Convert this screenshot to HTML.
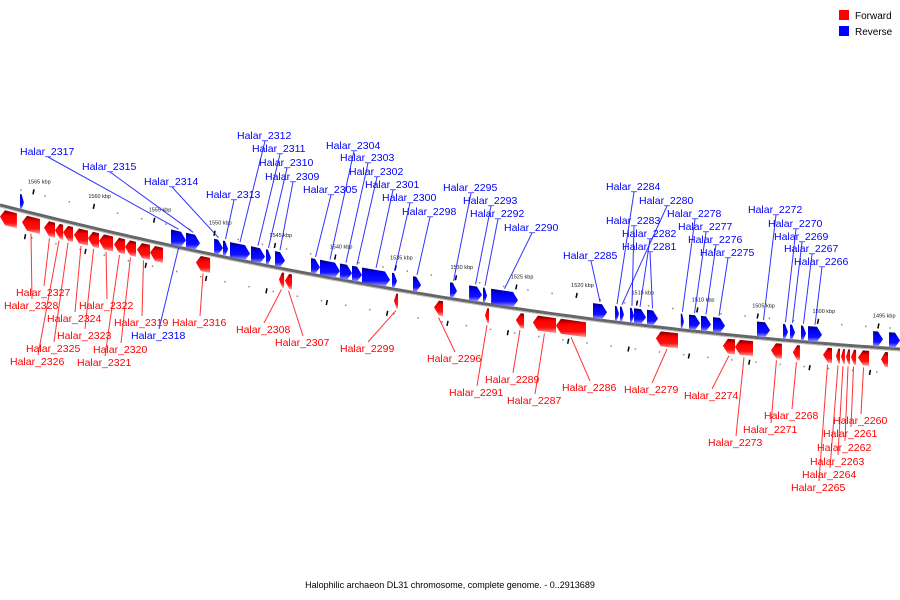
<!DOCTYPE html>
<html><head><meta charset="utf-8">
<style>
html,body{margin:0;padding:0;background:#fff;}
svg{display:block;font-family:"Liberation Sans",sans-serif;}
</style></head>
<body>
<svg id="chart" width="900" height="600" viewBox="0 0 900 600">
<defs>
<linearGradient id="gb" x1="0" y1="0" x2="0" y2="1"><stop offset="0" stop-color="#00006e"/><stop offset="0.3" stop-color="#0000ff"/><stop offset="0.7" stop-color="#1010ff"/><stop offset="1" stop-color="#a0a0ff"/></linearGradient>
<linearGradient id="gr" x1="0" y1="0" x2="0" y2="1"><stop offset="0" stop-color="#700000"/><stop offset="0.3" stop-color="#ff0000"/><stop offset="0.7" stop-color="#ff1010"/><stop offset="1" stop-color="#ffa0a0"/></linearGradient>
</defs>
<g id="tracks"></g><g id="genes"></g><g id="leaders"></g><g id="labels"></g>
<g>
<rect x="839" y="10" width="10" height="10" fill="#ff0000"/>
<text x="855" y="19" font-size="10" fill="#000">Forward</text>
<rect x="839" y="26" width="10" height="10" fill="#0000ff"/>
<text x="855" y="35" font-size="10" fill="#000">Reverse</text>
</g>
<text x="450" y="588" font-size="9" text-anchor="middle" fill="#000">Halophilic archaeon DL31 chromosome, complete genome. - 0..2913689</text>
</svg>
<script>
// tick positions (kbp)
const tickKbp = [1565,1560,1555,1550,1545,1540,1535,1530,1525,1520,1515,1510,1505,1500,1495];
// genes: start/end kbp and strand
const geneStart = [1567.73,1565.91,1564.09,1563.18,1562.51,1561.60,1560.44,1559.53,1558.29,1557.38,1556.38,1555.31,1551.50,1544.62,1544.12,1535.09,1531.78,1527.55,1524.99,1523.58,1521.67,1513.39,1507.84,1506.84,1503.86,1502.04,1499.55,1498.47,1498.06,1497.64,1497.23,1496.65,1494.74,
 1566.08,1553.57,1552.32,1550.00,1549.26,1548.68,1546.94,1545.70,1544.95,1541.97,1541.22,1539.57,1538.57,1537.74,1535.26,1533.52,1530.45,1528.87,1527.72,1527.05,1518.60,1516.78,1516.37,1515.54,1515.21,1514.13,1511.33,1510.65,1509.66,1508.66,1505.02,1502.86,1502.28,1501.37,1500.79,1495.40,1494.08];
const geneEnd = [1566.33,1564.42,1563.18,1562.51,1561.69,1560.44,1559.53,1558.37,1557.38,1556.47,1555.31,1554.23,1550.33,1544.20,1543.54,1534.76,1531.03,1527.22,1524.32,1521.67,1519.18,1511.56,1506.84,1505.35,1502.95,1501.46,1498.80,1498.14,1497.73,1497.31,1496.81,1495.73,1494.16,
 1565.75,1552.32,1551.16,1549.26,1548.84,1547.02,1545.78,1545.28,1544.12,1541.22,1539.57,1538.57,1537.74,1535.42,1534.84,1532.85,1529.87,1527.80,1527.39,1524.82,1517.44,1516.45,1516.04,1515.21,1514.21,1513.22,1511.07,1509.74,1508.83,1507.67,1503.94,1502.45,1501.87,1500.96,1499.63,1494.58,1493.17];
const geneStrand = ["F","F","F","F","F","F","F","F","F","F","F","F","F","F","F","F","F","F","F","F","F","F","F","F","F","F","F","F","F","F","F","F","F",
 "R","R","R","R","R","R","R","R","R","R","R","R","R","R","R","R","R","R","R","R","R","R","R","R","R","R","R","R","R","R","R","R","R","R","R","R","R"];
// labels: name, anchor gene index, label position
const labelNames = ["Halar_2317","Halar_2315","Halar_2314","Halar_2313","Halar_2312","Halar_2311","Halar_2310","Halar_2309","Halar_2305","Halar_2304","Halar_2303","Halar_2302","Halar_2301","Halar_2300","Halar_2298","Halar_2295","Halar_2293","Halar_2292","Halar_2290","Halar_2285","Halar_2284","Halar_2280","Halar_2283","Halar_2282","Halar_2281","Halar_2278","Halar_2277","Halar_2276","Halar_2275","Halar_2272","Halar_2270","Halar_2269","Halar_2267","Halar_2266",
 "Halar_2327","Halar_2328","Halar_2324","Halar_2323","Halar_2325","Halar_2326","Halar_2322","Halar_2319","Halar_2320","Halar_2321","Halar_2318","Halar_2316","Halar_2308","Halar_2307","Halar_2299","Halar_2296","Halar_2291","Halar_2289","Halar_2287","Halar_2286","Halar_2279","Halar_2274","Halar_2273","Halar_2271","Halar_2268","Halar_2260","Halar_2261","Halar_2262","Halar_2263","Halar_2264","Halar_2265"];
const labelGene = [34,35,36,37,38,39,40,41,42,43,44,45,46,47,48,49,50,51,52,53,54,55,56,57,58,59,60,61,62,63,64,65,66,67,
 2,1,5,6,4,3,7,10,9,8,34,12,13,14,15,16,17,18,19,20,21,22,23,24,25,31,30,29,28,27,26];
const labelX = [20,82,144,206,237,252,259,265,303,326,340,349,365,382,402,443,463,470,504,563,606,639,606,622,622,667,678,688,700,748,768,774,784,794,
 16,4,47,57,26,10,79,114,93,77,131,172,236,275,340,427,449,485,507,562,624,684,708,743,764,833,823,817,810,802,791];
const labelY = [151,166,181,194,135,148,162,176,189,145,157,171,184,197,211,187,200,213,227,255,186,200,220,233,246,213,226,239,252,209,223,236,248,261,
 292,305,318,335,348,361,305,322,349,362,335,322,329,342,348,358,392,379,400,387,389,395,442,429,415,420,433,447,461,474,487];

const kx = 33, kRef = 1565, pxPerKbp = 12.07;
function X(kbp){ return kx + (kRef - kbp) * pxPerKbp; }
function L(x){ return 205 + 0.255*x - 0.0001056*x*x; }
const NS = "http://www.w3.org/2000/svg";
function mk(tag, attrs, parent){ const e=document.createElementNS(NS,tag); for(const k in attrs) e.setAttribute(k,attrs[k]); parent.appendChild(e); return e; }
const gT=document.getElementById('tracks'), gG=document.getElementById('genes'), gLd=document.getElementById('leaders'), gLb=document.getElementById('labels');

// backbone
let d=""; for(let x=0;x<=900;x+=10){ d+=(x?"L":"M")+x+","+L(x).toFixed(1); }
const bb=mk('path',{d:d,stroke:"#666",'stroke-width':3,fill:"none"},gT);


const bb2=mk('path',{d:d,stroke:"#bbb",'stroke-width':1,fill:"none",transform:"translate(0,2)"},gT);



// dotted tracks
for(let k=1570;k>=1490;k-=2){
  const x=X(k); if(x<0||x>900) continue;
  const a=mk('rect',{x:x-0.7,y:L(x)-21,width:1.5,height:1.5,fill:"#888"},gT);
  
  
  const x2=X(k-0.9);
  const b=mk('rect',{x:x2-0.7,y:L(x2)+24,width:1.5,height:1.5,fill:"#888"},gT);
  
  
}
tickKbp.forEach(k=>{
  const x=X(k);
  const t=mk('line',{x1:x+1,y1:L(x)-24,x2:x,y2:L(x)-19,stroke:"#000",'stroke-width':1.5},gT);
  
  
  const x2=X(k+0.7);
  const t2=mk('line',{x1:x2+1,y1:L(x2)+23,x2:x2,y2:L(x2)+28,stroke:"#000",'stroke-width':1.5},gT);
  
  
  const tl=mk('text',{x:x-5,y:L(x)-30,'font-size':5.5,fill:"#222"},gT);
  tl.textContent=k+" kbp";
  
  
});

// genes
for(let i=0;i<geneStart.length;i++){
  const xa=X(geneStart[i]), xb=X(geneEnd[i]);
  const x0=Math.min(xa,xb), x1=Math.max(xa,xb);
  const fwd=geneStrand[i]==="F";
  const o0=fwd?4:-16, o1=fwd?19:-1;
  const h=Math.min(5,(x1-x0)*0.6);
  let pts;
  if(fwd){
    const ym0=(L(x0)+o0+L(x0)+o1)/2;
    pts=[[x0,ym0],[x0+h,L(x0+h)+o0],[x1,L(x1)+o0],[x1,L(x1)+o1],[x0+h,L(x0+h)+o1]];
  } else {
    const ym1=(L(x1)+o0+L(x1)+o1)/2;
    pts=[[x0,L(x0)+o0],[x1-h,L(x1-h)+o0],[x1,ym1],[x1-h,L(x1-h)+o1],[x0,L(x0)+o1]];
  }
  const p=mk('polygon',{points:pts.map(q=>q[0].toFixed(1)+","+q[1].toFixed(1)).join(" "),fill:fwd?"url(#gr)":"url(#gb)"},gG);
  
  
}

// labels
for(let i=0;i<labelNames.length;i++){
  const gi=labelGene[i];
  const gx=(X(geneStart[gi])+X(geneEnd[gi]))/2;
  const fwd=geneStrand[gi]==="F";
  const isRedLabel=i>=34 && labelNames[i]!=="Halar_2318";
  const col=isRedLabel?"#ff0000":"#0000ff";
  const lx=labelX[i], ly=labelY[i];
  const w=labelNames[i].length*5.6;
  const ax=lx+w/2, ay=isRedLabel?ly-6:(i>=34?ly-6:ly+6);
  const gy=fwd?L(gx)+21:(i>=34?L(gx)+1:L(gx)-18);
  const ln=mk('line',{x1:ax,y1:ay,x2:gx,y2:gy,stroke:col,'stroke-width':1,opacity:0.8},gLd);
  
  
  const t=mk('text',{x:lx,y:ly+4,'font-size':10.5,fill:col},gLb);
  t.textContent=labelNames[i];
  
  
}
</script>
</body></html>
